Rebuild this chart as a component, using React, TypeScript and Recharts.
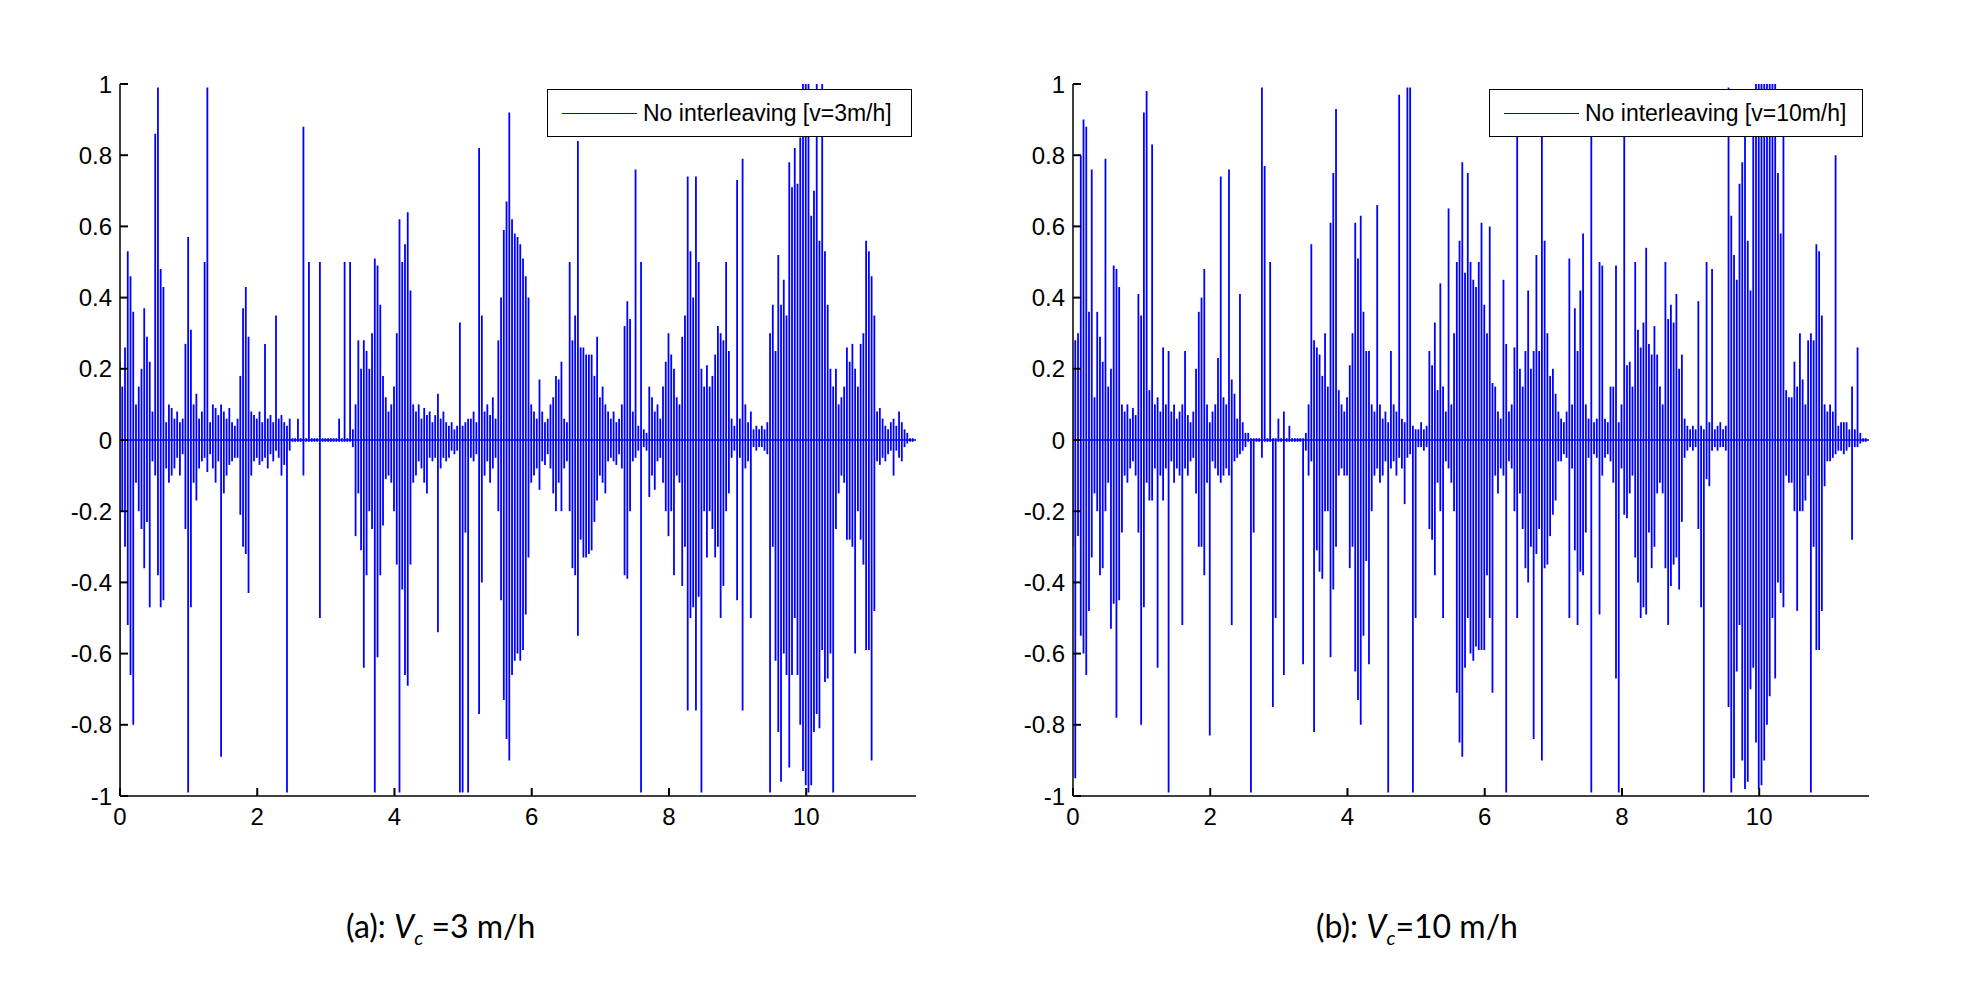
import React from 'react';
import { ComposedChart, Bar, XAxis, YAxis, ReferenceLine, Legend } from 'recharts';

// sample spacing of the decimated signal (s)
const STEP = 0.04;

const X_TICKS = [0, 2, 4, 6, 8, 10];
const Y_TICKS = [-1, -0.8, -0.6, -0.4, -0.2, 0, 0.2, 0.4, 0.6, 0.8, 1];

// (a) v = 3 m/h : upper / lower envelope per sample, one row per second
const HI_A = [
  .22, .15, .26, .53, .46, .36, .1, .15, .2, .37, .29, .22, .08, .86, .99, .48, .43, .05, .1, .09, .06, .08, .05, .06, .27,
  .57, .31, .1, .13, .06, .08, .5, .99, .05, .1, .09, .07, .1, .08, .06, .09, .05, .04, .06, .18, .37, .43, .29, .08, .07,
  .06, .08, .05, .27, .06, .07, .05, .35, .06, .07, .05, .04, .06, .005, .005, .06, .005, .88, .005, .5, .005, .005, .005, .5, .005,
  .005, .005, .005, .005, .005, .06, .005, .5, .005, .5, .03, .1, .28, .2, .28, .25, .2, .3, .51, .49, .38, .18, .12, .08, .1,
  .15, .3, .62, .5, .55, .64, .42, .1, .08, .1, .06, .09, .07, .08, .05, .07, .13, .06, .08, .05, .04, .05, .03, .04, .33,
  .04, .05, .06, .06, .08, .05, .82, .35, .08, .1, .07, .12, .06, .28, .4, .59, .67, .92, .62, .58, .57, .55, .51, .46, .4,
  .1, .08, .06, .17, .08, .05, .06, .1, .12, .18, .17, .22, .06, .05, .5, .28, .35, .84, .26, .26, .24, .24, .24, .18, .29,
  .12, .15, .1, .08, .06, .08, .05, .06, .1, .32, .39, .34, .08, .76, .04, .5, .03, .02, .15, .12, .08, .1, .06, .15, .22,
  .3, .24, .2, .12, .1, .29, .35, .74, .53, .4, .74, .5, .2, .15, .21, .15, .18, .24, .32, .3, .28, .5, .25, .06, .04,
  .73, .06, .79, .1, .05, .08, .03, .04, .03, .04, .03, .05, .3, .38, .25, .52, .38, .45, .35, .78, .71, .82, .72, .85, 1,
  1, 1, .63, .7, 1, .56, 1, .53, .38, .2, .15, .2, .1, .12, .15, .26, .22, .27, .2, .15, .27, .3, .56, .53, .46,
  .35, .08, .09, .06, .04, .03, .05, .06, .04, .08, .05, .03, .02, .005, .005,
];
const LO_A = [
  -.99, -.2, -.3, -.52, -.66, -.8, -.12, -.2, -.25, -.36, -.23, -.47, -.06, -.1, -.38, -.47, -.45, -.08, -.12, -.1, -.08, -.05, -.1, -.04, -.25,
  -.99, -.47, -.12, -.17, -.08, -.06, -.05, -.09, -.04, -.08, -.12, -.06, -.89, -.15, -.1, -.07, -.06, -.05, -.05, -.21, -.3, -.32, -.43, -.1, -.06,
  -.05, -.07, -.06, -.05, -.08, -.04, -.06, -.03, -.05, -.1, -.07, -.99, -.03, -.005, -.005, -.005, -.005, -.1, -.005, -.005, -.005, -.005, -.005, -.5, -.005,
  -.005, -.005, -.005, -.005, -.005, -.005, -.005, -.005, -.005, -.005, -.02, -.27, -.15, -.31, -.64, -.38, -.2, -.25, -.99, -.61, -.38, -.24, -.11, -.1, -.12,
  -.2, -.35, -.99, -.42, -.66, -.69, -.35, -.12, -.1, -.06, -.08, -.12, -.15, -.05, -.06, -.05, -.54, -.08, -.05, -.06, -.05, -.03, -.04, -.03, -.99,
  -.99, -.26, -.99, -.05, -.06, -.04, -.77, -.4, -.1, -.06, -.12, -.08, -.05, -.2, -.45, -.73, -.84, -.9, -.66, -.62, -.6, -.62, -.59, -.49, -.33,
  -.12, -.1, -.08, -.14, -.06, -.07, -.04, -.08, -.15, -.2, -.12, -.2, -.08, -.06, -.2, -.36, -.38, -.55, -.28, -.33, -.33, -.32, -.31, -.23, -.17,
  -.1, -.12, -.15, -.06, -.05, -.06, -.07, -.04, -.08, -.38, -.39, -.2, -.06, -.05, -.03, -.99, -.02, -.03, -.16, -.1, -.14, -.06, -.05, -.12, -.2,
  -.27, -.2, -.38, -.1, -.12, -.41, -.3, -.76, -.5, -.47, -.76, -.44, -.99, -.2, -.33, -.2, -.25, -.33, -.3, -.5, -.41, -.2, -.15, -.05, -.03,
  -.45, -.05, -.76, -.08, -.06, -.5, -.02, -.03, -.02, -.02, -.03, -.04, -.99, -.3, -.62, -.82, -.96, -.6, -.66, -.92, -.66, -.5, -.66, -.8, -.93,
  -.97, -.99, -.97, -.82, -.77, -.81, -.59, -.68, -.67, -.6, -.99, -.25, -.15, -.1, -.12, -.28, -.28, -.3, -.6, -.2, -.28, -.35, -.59, -.59, -.9,
  -.48, -.06, -.07, -.05, -.06, -.04, -.03, -.1, -.03, -.05, -.06, -.02, -.01, -.005, -.005,
];

// (b) v = 10 m/h
const HI_B = [
  .2, .28, .3, .8, .9, .88, .36, .76, .12, .36, .29, .22, .79, .15, .2, .49, .48, .43, .1, .08, .1, .06, .09, .07, .41,
  .35, .92, .98, .14, .83, .1, .12, .08, .26, .1, .25, .08, .1, .06, .08, .1, .25, .07, .05, .08, .2, .36, .4, .48, .1,
  .05, .08, .1, .23, .74, .12, .1, .76, .17, .13, .06, .41, .05, .02, .02, .005, .005, .005, .005, .99, .77, .005, .5, .005, .005,
  .06, .005, .08, .005, .04, .005, .005, .005, .005, .005, .02, .1, .55, .28, .26, .24, .18, .3, .15, .61, .75, .93, .14, .1, .08,
  .12, .21, .3, .61, .51, .63, .36, .25, .25, .1, .08, .66, .1, .06, .08, .05, .25, .1, .08, .97, .06, .05, .99, .99, .04,
  .03, .03, .05, .03, .04, .25, .21, .33, .14, .44, .15, .08, .65, .1, .3, .5, .56, .78, .47, .75, .5, .45, .43, .5, .61,
  .38, .3, .6, .16, .15, .08, .06, .45, .27, .08, .1, .26, .89, .2, .15, .25, .42, .2, .25, .52, .25, .96, .56, .3, .18,
  .2, .13, .08, .06, .05, .08, .51, .1, .37, .25, .42, .58, .1, .06, .9, .05, .06, .5, .49, .06, .05, .15, .15, .49, .05,
  .1, .92, .21, .22, .15, .5, .31, .26, .33, .54, .27, .24, .32, .24, .15, .1, .5, .34, .38, .33, .41, .2, .24, .06, .04,
  .03, .04, .03, .39, .04, .03, .5, .05, .48, .03, .04, .05, .03, .04, .99, .63, .52, .45, .72, .78, .88, .56, .42, .9, 1,
  1, 1, 1, 1, 1, 1, 1, .75, .58, .87, .14, .12, .12, .22, .15, .3, .17, .1, .28, .3, .28, .55, .53, .35, .1,
  .08, .1, .08, .8, .04, .05, .05, .05, .03, .15, .03, .26, .02, .005, .005,
];
const LO_B = [
  -.3, -.95, -.27, -.55, -.6, -.66, -.48, -.33, -.15, -.2, -.38, -.36, -.2, -.12, -.53, -.46, -.78, -.45, -.26, -.1, -.12, -.08, -.06, -.1, -.26,
  -.8, -.47, -.12, -.17, -.17, -.08, -.64, -.1, -.17, -.08, -.99, -.06, -.12, -.08, -.1, -.52, -.08, -.1, -.06, -.05, -.15, -.3, -.3, -.38, -.12,
  -.83, -.06, -.08, -.1, -.12, -.1, -.08, -.1, -.52, -.06, -.05, -.04, -.03, -.02, -.005, -.99, -.26, -.005, -.005, -.05, -.005, -.005, -.005, -.75, -.5,
  -.005, -.005, -.66, -.005, -.005, -.005, -.005, -.005, -.005, -.63, -.03, -.1, -.06, -.82, -.31, -.37, -.39, -.2, -.2, -.61, -.42, -.3, -.1, -.08, -.1,
  -.1, -.36, -.3, -.65, -.73, -.8, -.55, -.34, -.63, -.2, -.1, -.08, -.12, -.1, -.06, -.99, -.08, -.06, -.1, -.05, -.08, -.18, -.05, -.04, -.99,
  -.5, -.02, -.02, -.03, -.02, -.25, -.28, -.38, -.12, -.2, -.5, -.06, -.08, -.12, -.2, -.71, -.85, -.89, -.64, -.5, -.6, -.62, -.58, -.59, -.59,
  -.59, -.38, -.5, -.71, -.1, -.15, -.08, -.1, -.99, -.06, -.08, -.2, -.5, -.15, -.25, -.36, -.4, -.3, -.84, -.32, -.25, -.9, -.36, -.35, -.27,
  -.21, -.17, -.06, -.06, -.04, -.05, -.5, -.08, -.31, -.52, -.37, -.38, -.26, -.05, -.99, -.04, -.05, -.49, -.1, -.05, -.04, -.06, -.12, -.67, -.99,
  -.08, -.21, -.22, -.15, -.1, -.33, -.4, -.5, -.47, -.49, -.26, -.36, -.3, -.15, -.12, -.15, -.36, -.52, -.41, -.35, -.33, -.42, -.23, -.05, -.03,
  -.02, -.03, -.02, -.25, -.47, -.99, -.11, -.13, -.03, -.02, -.03, -.02, -.02, -.03, -.75, -.99, -.95, -.65, -.52, -.9, -.98, -.96, -.7, -.64, -.85,
  -.98, -.97, -.9, -.8, -.72, -.5, -.67, -.4, -.43, -.47, -.1, -.12, -.12, -.2, -.48, -.2, -.2, -.17, -.1, -.99, -.3, -.59, -.59, -.48, -.13,
  -.06, -.06, -.05, -.04, -.03, -.03, -.04, -.03, -.02, -.28, -.02, -.02, -.01, -.005, -.005,
];

const BLUE = '#0000ff';
const AXIS_FONT = '"Liberation Sans", Arial, sans-serif';

const buildData = (hi: number[], lo: number[]) =>
  hi.map((h, i) => ({ t: i * STEP, range: [lo[i], h] }));

const LegendBox = ({ payload, lineWidth }: any) => {
  const item = payload && payload[0];
  return (
    <div
      style={{
        boxSizing: 'border-box',
        width: '100%',
        height: '100%',
        border: '1.5px solid #000',
        background: '#fff',
        display: 'flex',
        alignItems: 'center',
        fontFamily: AXIS_FONT,
        fontSize: 23,
        color: '#000',
        whiteSpace: 'nowrap',
      }}
    >
      <span style={{ display: 'inline-block', width: lineWidth, height: 0, borderTop: `1.5px solid ${BLUE}`, marginLeft: 14, marginRight: 6 }} />
      <span>{item ? item.value : ''}</span>
    </div>
  );
};

interface PanelProps {
  hi: number[];
  lo: number[];
  name: string;
  legendLeft: number;
  legendWidth: number;
}

const SignalPanel: React.FC<PanelProps> = ({ hi, lo, name, legendLeft, legendWidth }) => {
  const data = buildData(hi, lo);
  return (
    <ComposedChart width={960} height={900} data={data} margin={{ top: 84, right: 44, bottom: 54, left: 0 }}>
      <XAxis
        dataKey="t"
        type="number"
        domain={[0, 11.6]}
        allowDataOverflow
        ticks={X_TICKS}
        height={50}
        tickSize={-8}
        tickMargin={20}
        axisLine={{ stroke: '#000', strokeWidth: 1.5 }}
        tickLine={{ stroke: '#000', strokeWidth: 2 }}
        tick={{ fontSize: 24, fill: '#000', fontFamily: AXIS_FONT }}
      />
      <XAxis
        xAxisId="top"
        orientation="top"
        dataKey="t"
        type="number"
        domain={[0, 11.6]}
        allowDataOverflow
        ticks={X_TICKS}
        height={0}
        tickSize={-8}
        tickFormatter={() => ''}
        axisLine={{ stroke: '#000', strokeWidth: 1.5 }}
        tickLine={{ stroke: '#000', strokeWidth: 2 }}
      />
      <YAxis
        type="number"
        domain={[-1, 1]}
        allowDataOverflow
        ticks={Y_TICKS}
        width={120}
        tickSize={-8}
        tickMargin={16}
        axisLine={{ stroke: '#000', strokeWidth: 1.5 }}
        tickLine={{ stroke: '#000', strokeWidth: 2 }}
        tick={{ fontSize: 24, fill: '#000', fontFamily: AXIS_FONT }}
      />
      <YAxis
        yAxisId="right"
        orientation="right"
        type="number"
        domain={[-1, 1]}
        allowDataOverflow
        ticks={Y_TICKS}
        width={0}
        tickSize={-8}
        tickFormatter={() => ''}
        axisLine={{ stroke: '#000', strokeWidth: 1.5 }}
        tickLine={{ stroke: '#000', strokeWidth: 2 }}
      />
      <ReferenceLine y={0} stroke={BLUE} strokeWidth={1.5} />
      <Bar dataKey="range" name={name} fill={BLUE} barSize={1.8} isAnimationActive={false} />
      <Legend
        layout="horizontal"
        verticalAlign="middle"
        align="center"
        wrapperStyle={{ top: 89, left: legendLeft, width: legendWidth, height: 48 }}
        content={(props: any) => <LegendBox {...props} lineWidth={75} />}
      />
    </ComposedChart>
  );
};

const captionStyle: React.CSSProperties = {
  position: 'absolute',
  top: 906,
  fontFamily: 'Lato, "Open Sans", sans-serif',
  fontSize: 32,
  color: '#000',
  whiteSpace: 'nowrap',
};

const Vc = () => (
  <>
    <i>V</i>
    <sub style={{ fontSize: '0.62em', fontStyle: 'italic' }}>c</sub>
  </>
);

export default function App() {
  return (
    <div style={{ position: 'absolute', left: 0, top: 0, width: 1964, height: 1004, background: '#fff', overflow: 'hidden' }}>
      <div style={{ position: 'absolute', left: 0, top: 0 }}>
        <SignalPanel hi={HI_A} lo={LO_A} name="No interleaving [v=3m/h]" legendLeft={547} legendWidth={365} />
      </div>
      <div style={{ position: 'absolute', left: 953, top: 0 }}>
        <SignalPanel hi={HI_B} lo={LO_B} name="No interleaving [v=10m/h]" legendLeft={536} legendWidth={374} />
      </div>
      <div style={{ ...captionStyle, left: 346 }}>
        (a): <Vc /> =3 m/h
      </div>
      <div style={{ ...captionStyle, left: 1316 }}>
        (b): <Vc />=10 m/h
      </div>
    </div>
  );
}
